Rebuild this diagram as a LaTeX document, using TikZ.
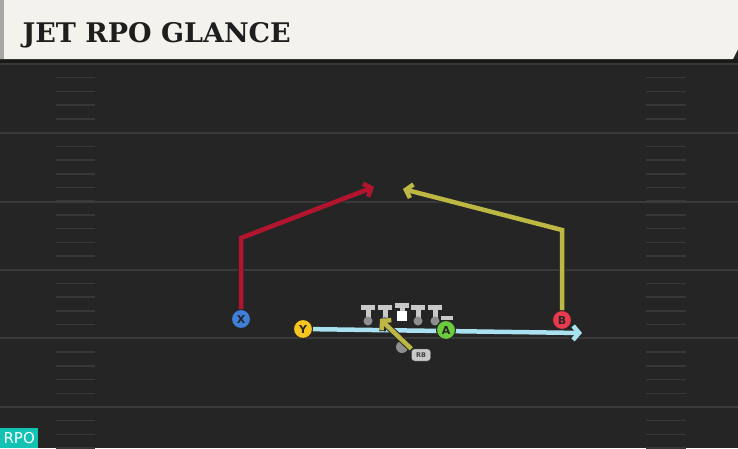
\documentclass[tikz,border=0pt]{standalone}
\usepackage{fontspec}
\newfontfamily\titlefont{DejaVu Serif}
\newfontfamily\labelfont{DejaVu Sans}
\usetikzlibrary{arrows.meta}
\definecolor{fieldc}{HTML}{252525}
\definecolor{yardc}{HTML}{3A3A3A}
\definecolor{hashc}{HTML}{383838}
\definecolor{headerc}{HTML}{F4F2EC}
\definecolor{titlec}{HTML}{1E1E1E}
\definecolor{xblue}{HTML}{3F7FD8}
\definecolor{yyellow}{HTML}{F6C520}
\definecolor{agreen}{HTML}{6BCB3C}
\definecolor{bred}{HTML}{E83A4C}
\definecolor{redroute}{HTML}{B3152F}
\definecolor{oliveroute}{HTML}{BDB743}
\definecolor{blueroute}{HTML}{A9E1F0}
\definecolor{linec}{HTML}{C9C9C9}
\definecolor{dotc}{HTML}{8E8E8E}
\definecolor{rpoc}{HTML}{12C2B3}

\begin{document}
\begin{tikzpicture}[x=1pt,y=-1pt,
  player/.style={circle,draw=black!85,line width=1pt,minimum size=19pt,inner sep=0pt,
    font=\labelfont\bfseries\fontsize{11}{11}\selectfont,text=black!85},
  route/.style={line width=4.5pt,draw=#1,-{Straight Barb[length=6pt,width=14pt]},
    preaction={draw=black!85,line width=6.5pt}},
  yardline/.style={draw=yardc,line width=2pt},
  hash/.style={draw=hashc,line width=1.5pt}]
\useasboundingbox (0,0) rectangle (738,448);
% Field
\fill[fieldc] (0,0) rectangle (738,448);
\foreach \k in {1,...,28} {
  \draw[hash] (56,64+13.72*\k) -- (95,64+13.72*\k);
  \draw[hash] (646,64+13.72*\k) -- (686,64+13.72*\k);
}
\foreach \y in {64,133,202,270,338,407}
  \draw[yardline] (0,\y) -- (738,\y);
% Header
\fill[black!90] (0,59) rectangle (738,63);
\fill[headerc] (0,0) -- (738,0) -- (738,49) -- (733,59) -- (0,59) -- cycle;
\fill[black!35] (0,0) rectangle (4,59);
\node[anchor=base west,text=titlec,font=\titlefont\bfseries\fontsize{27}{27}\selectfont] (title) at (19,42) {JET RPO GLANCE};
% Line
\foreach \x in {368,385,418,435} {
  \fill[linec] (\x-7,305) rectangle (\x+7,310);
  \fill[linec] (\x-2.5,310) rectangle (\x+2.5,319);
  \fill[dotc] (\x,321) circle (4.5);
}
\fill[linec] (395,303) rectangle (409,308);
\fill[linec] (399.5,308) rectangle (404.5,312);
\fill[white] (397,311) rectangle (407,321);
\fill[linec] (441,316) rectangle (453,320);
% Players
\node[player,fill=xblue] (X) at (241,319) {X};
\node[player,fill=yyellow] (Y) at (303,329) {Y};
\node[player,fill=bred] (B) at (562,320) {B};
\fill[dotc] (402,347) circle (6);
\node[rounded corners=3pt,fill=linec,draw=black!70,minimum width=19pt,minimum height=12pt,inner sep=0pt,
  font=\labelfont\bfseries\fontsize{6.5}{6.5}\selectfont,text=black!75] (RB) at (421,355) {RB};
% Routes
\coordinate (xcorner) at (241,238);
\coordinate (xend) at (374,187);
\coordinate (bcorner) at (562,230);
\coordinate (bend) at (403,189);
\coordinate (jetend) at (582,333);
\coordinate (rbend) at (380,319);
\draw[route=redroute] (X) -- (xcorner) -- (xend);
\draw[route=oliveroute] (B) -- (bcorner) -- (bend);
\draw[route=blueroute] (Y) -- (jetend);
\draw[route=oliveroute] (RB.north west) -- (rbend);
\node[player,fill=agreen] (A) at (446,330) {A};
% Tag
\node[anchor=south west,fill=rpoc,text=white,minimum width=38pt,minimum height=20pt,inner sep=0pt,
  font=\labelfont\fontsize{15}{15}\selectfont] (rpo) at (0,448) {RPO};
\end{tikzpicture}
\end{document}
